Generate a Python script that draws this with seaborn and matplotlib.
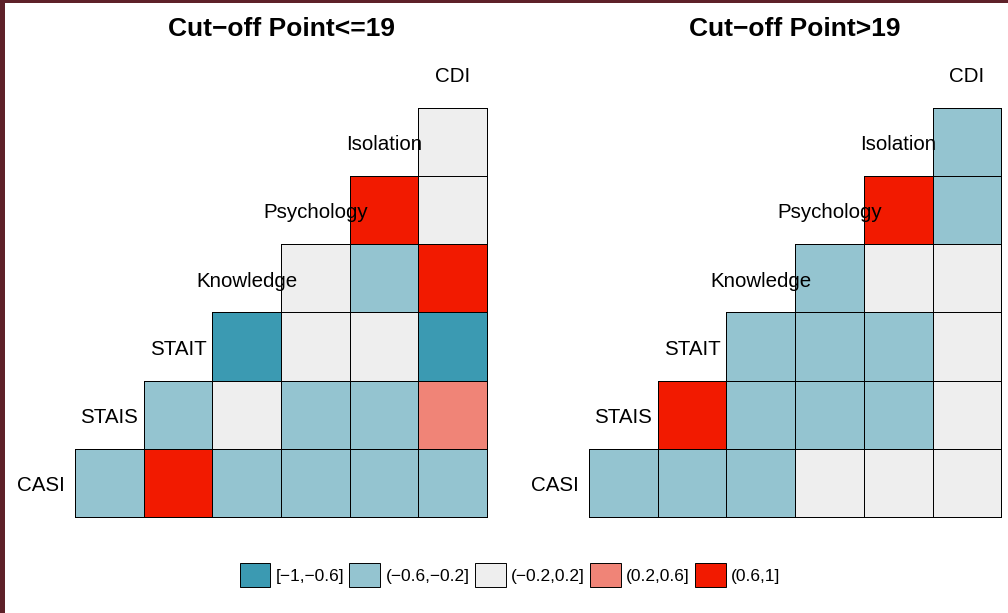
import numpy as np
import pandas as pd
import matplotlib
matplotlib.use("Agg")
import matplotlib.pyplot as plt
from matplotlib.colors import ListedColormap
from matplotlib.patches import Patch, Rectangle
import seaborn as sns

# variables on the diagonal, bottom to top
variables = ["CASI", "STAIS", "STAIT", "Knowledge", "Psychology", "Isolation", "CDI"]

# correlation classes, legend order
bins = ["[\u22121,\u22120.6]", "(\u22120.6,\u22120.2]", "(\u22120.2,0.2]", "(0.2,0.6]", "(0.6,1]"]
bin_colors = ["#3B9AB2", "#94C4D0", "#EEEEEE", "#F08477", "#F21A00"]

# bin index per cell; row = variable (CASI..Isolation), columns = partner STAIS..CDI
# only the lower triangle (col >= row) is used
low_casi = [1, 4, 1, 1, 1, 1]
low_stais = [1, 2, 1, 1, 3]
low_stait = [0, 2, 2, 0]
low_knowledge = [2, 1, 4]
low_psychology = [4, 2]
low_isolation = [2]

high_casi = [1, 1, 1, 2, 2, 2]
high_stais = [4, 1, 1, 1, 2]
high_stait = [1, 1, 1, 2]
high_knowledge = [1, 2, 2]
high_psychology = [4, 1]
high_isolation = [1]

panels = [
    ("Cut\u2212off Point<=19",
     [low_casi, low_stais, low_stait, low_knowledge, low_psychology, low_isolation]),
    ("Cut\u2212off Point>19",
     [high_casi, high_stais, high_stait, high_knowledge, high_psychology, high_isolation]),
]

plt.rcParams["font.family"] = ["Liberation Sans", "DejaVu Sans"]

W, H = 1008, 613
fig = plt.figure(figsize=(W / 100, H / 100), dpi=100)
cmap = ListedColormap(bin_colors)

cell_w = 68.7
cell_h = 68.2
grid_bottom = 517  # px from top
lefts = [75, 589]

for (title, rows), left in zip(panels, lefts):
    n = len(rows)
    mat = np.full((n, n), np.nan)
    for r, vals in enumerate(rows):
        for k, v in enumerate(vals):
            mat[r, r + k] = v
    df = pd.DataFrame(mat)
    x0 = left - cell_w
    ax = fig.add_axes([x0 / W, 1 - grid_bottom / H, 7 * cell_w / W, 7 * cell_h / H])
    sns.heatmap(df, ax=ax, cmap=cmap, vmin=-0.5, vmax=4.5, mask=df.isna(),
                cbar=False, linewidths=0.7, linecolor="black", square=False)
    # hide the outlines of the masked (empty) cells
    mesh = ax.collections[0]
    valid = ~np.isnan(mat).ravel()
    edge = np.zeros((valid.size, 4))
    edge[valid] = [0, 0, 0, 1]
    mesh.set_edgecolor(edge)
    mesh.set_clip_on(False)
    ax.set_xlim(-1, 6)
    ax.set_ylim(0, 7)
    ax.axis("off")
    for i, name in enumerate(variables):
        if i < 6:
            ax.text(i - 0.5, i + 0.46, name, ha="center", va="center", fontsize=14.8, zorder=5)
        else:
            ax.text(5.5, 6.46, name, ha="center", va="center", fontsize=14.8, zorder=5)
    ax.text(3, 7.16, title, ha="center", va="center", fontsize=19,
            fontweight="bold", clip_on=False)

handles = [Patch(facecolor=c, edgecolor="black", linewidth=0.7) for c in bin_colors]
fig.legend(handles, bins, loc="center", bbox_to_anchor=(0.506, 1 - 575 / H), ncol=5,
           frameon=False, fontsize=12.5, handlelength=1.78, handleheight=1.78,
           handletextpad=0.3, columnspacing=0.3, borderpad=0)

# maroon frame on left and top
fig.patches.append(Rectangle((0, 0), 5 / W, 1, transform=fig.transFigure,
                             facecolor="#5E2129", edgecolor="none", zorder=10))
fig.patches.append(Rectangle((0, 1 - 3 / H), 1, 3 / H, transform=fig.transFigure,
                             facecolor="#5E2129", edgecolor="none", zorder=10))

fig.savefig("out.png", dpi=100, facecolor="white")
